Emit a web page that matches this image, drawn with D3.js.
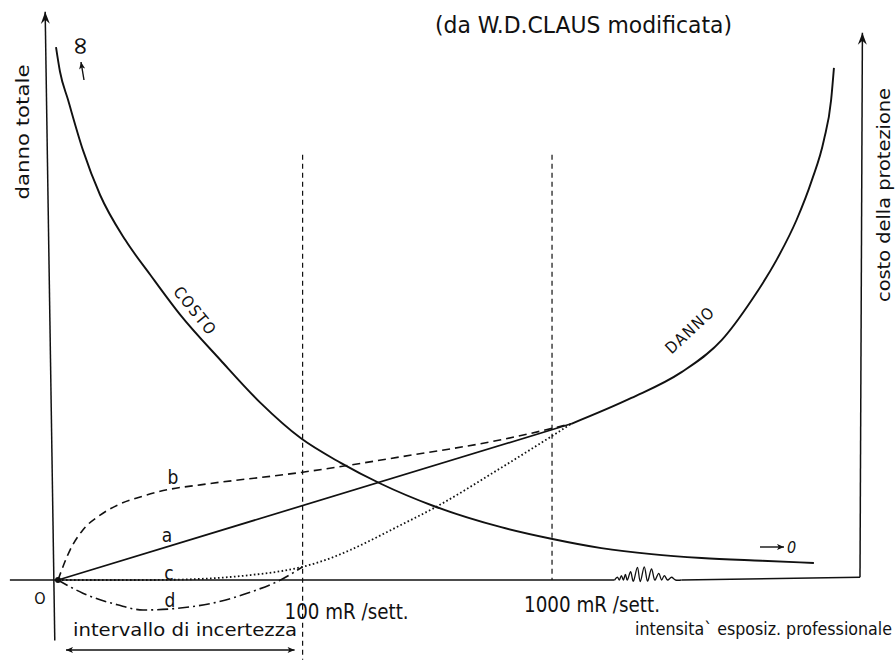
<!DOCTYPE html>
<html>
<head>
<meta charset="utf-8">
<script src="https://d3js.org/d3.v7.min.js"></script>
<style>
  body { margin: 0; background: #fff; }
  text { font-family: "DejaVu Sans Condensed", "DejaVu Sans", sans-serif; fill: #111; }
</style>
</head>
<body>
<div id="chart"></div>
<script>
// values: [intensity, value], both axes in 0-100 chart units
var costo = [[-0.25, 96.9], [0.25, 92.4], [1.25, 87.3], [3.1, 78.2], [5.25, 70], [8.4, 61.8],
             [11.5, 55.5], [15.25, 48.2], [20.25, 40], [25.25, 32.2], [30.25, 25.8], [35.25, 21.3],
             [40.25, 17.5], [46.75, 13.5], [55.25, 9.6], [61.5, 7.5], [67.75, 5.8], [74, 4.7],
             [80.25, 4.0], [87.75, 3.5], [94.25, 3.1]];
var danno = [[64, 28.4], [71.5, 33.1], [77.75, 37.8], [82.75, 43.6], [86.5, 50.9], [89.6, 58.2],
             [92.1, 65.5], [94, 72.7], [95.5, 80], [96.4, 87.3], [96.75, 93.1]];
var curveA = [[0, 0], [64, 28.4]];
var curveB = [[0, 0], [1.5, 5.45], [3.1, 9.1], [5.25, 11.8], [7.4, 13.6], [10.25, 15.1], [13.6, 16.4],
              [17.75, 17.3], [30.5, 19.6], [42.75, 22.4], [55.25, 25.5], [64, 28.4]];
var curveC = [[0, 0], [11.5, 0], [17.75, 0.2], [24, 0.9], [27.75, 1.6], [30.5, 2.4], [34.4, 4.2],
              [36.5, 5.5], [42.75, 10], [46.9, 13.1], [55.25, 20.4], [64, 28.4]];
var curveD = [[0, 0], [3.1, -2.4], [7.4, -4.5], [10.6, -5.45], [15.25, -5.1], [19.9, -4], [24, -2.2],
              [27.75, 0], [30.5, 2.4]];
// the small squiggle that breaks the baseline
var wave = [[69.4, 0], [69.75, 0.5], [70, 0], [70.25, 0.8], [70.5, 0], [70.75, 1.0], [71, 0],
            [71.4, 1.5], [71.75, -0.2], [72.25, 2.3], [72.6, -0.3], [73.1, 2.4], [73.5, -0.2],
            [74, 2.0], [74.4, 0], [74.9, 1.2], [75.25, 0], [75.6, 0.8], [76, 0], [76.5, 0.5],
            [77, 0], [77.75, 0]];
var tickValues = [30.5, 61.6];
var tickLabels = ["100 mR /sett.", "1000 mR /sett."];

var width = 896, height = 668;
var x = d3.scaleLinear().domain([0, 100]).range([58, 860]);
var y = d3.scaleLinear().domain([0, 100]).range([580, 30]);

var svg = d3.select("#chart").append("svg")
    .attr("width", width)
    .attr("height", height);

var defs = svg.append("defs");
defs.append("marker")
    .attr("id", "arr")
    .attr("viewBox", "-12 -5 13 10")
    .attr("refX", 0).attr("refY", 0)
    .attr("markerWidth", 13).attr("markerHeight", 10)
    .attr("markerUnits", "userSpaceOnUse")
    .attr("orient", "auto-start-reverse")
  .append("path")
    .attr("d", "M0,0 L-12,-4.5 L-8,0 L-12,4.5 Z")
    .attr("fill", "#111");
defs.append("marker")
    .attr("id", "arrSmall")
    .attr("viewBox", "-9 -4 10 8")
    .attr("refX", 0).attr("refY", 0)
    .attr("markerWidth", 9).attr("markerHeight", 7)
    .attr("markerUnits", "userSpaceOnUse")
    .attr("orient", "auto-start-reverse")
  .append("path")
    .attr("d", "M0,0 L-8,-3.5 L-6,0 L-8,3.5 Z")
    .attr("fill", "#111");

var line = d3.line().x(function(d) { return x(d[0]); }).y(function(d) { return y(d[1]); });
var smooth = d3.line().x(function(d) { return x(d[0]); }).y(function(d) { return y(d[1]); })
    .curve(d3.curveMonotoneX);

// axes
svg.append("path")
    .attr("d", line([[-0.4, -11], [-1.6, 103.3]]))
    .attr("stroke", "#111").attr("stroke-width", 1.5).attr("fill", "none")
    .attr("marker-end", "url(#arr)");
svg.append("path")
    .attr("d", line([[100, 0.5], [100.3, 99.5]]))
    .attr("stroke", "#111").attr("stroke-width", 1.5).attr("fill", "none")
    .attr("marker-end", "url(#arr)");
svg.append("path")
    .attr("d", line([[-6, 0], [wave[0][0], 0]]))
    .attr("stroke", "#111").attr("stroke-width", 1.4).attr("fill", "none");
svg.append("path")
    .attr("d", line([[wave[wave.length - 1][0], 0], [100, 0.5]]))
    .attr("stroke", "#111").attr("stroke-width", 1.4).attr("fill", "none");
svg.append("path")
    .attr("d", d3.line().x(function(d) { return x(d[0]); }).y(function(d) { return y(d[1]); })
        .curve(d3.curveCardinal)(wave))
    .attr("stroke", "#111").attr("stroke-width", 1.3).attr("fill", "none");

// vertical guide lines
svg.selectAll(".guide")
    .data(tickValues)
    .join("line")
    .attr("class", "guide")
    .attr("x1", function(d) { return x(d); })
    .attr("x2", function(d) { return x(d); })
    .attr("y1", y(77.3))
    .attr("y2", function(d, i) { return i === 0 ? y(-14.5) : y(0); })
    .attr("stroke", "#111").attr("stroke-width", 1.2)
    .attr("stroke-dasharray", "5,4");

// curves
svg.append("path").attr("d", smooth(costo))
    .attr("stroke", "#111").attr("stroke-width", 1.9).attr("fill", "none");
svg.append("path").attr("d", smooth(danno))
    .attr("stroke", "#111").attr("stroke-width", 1.9).attr("fill", "none");
svg.append("path").attr("d", line(curveA))
    .attr("stroke", "#111").attr("stroke-width", 1.7).attr("fill", "none");
svg.append("path").attr("d", smooth(curveB))
    .attr("stroke", "#111").attr("stroke-width", 1.6).attr("fill", "none")
    .attr("stroke-dasharray", "8,5");
svg.append("path").attr("d", smooth(curveC))
    .attr("stroke", "#111").attr("stroke-width", 1.8).attr("fill", "none")
    .attr("stroke-dasharray", "1.6,2.4");
svg.append("path").attr("d", smooth(curveD))
    .attr("stroke", "#111").attr("stroke-width", 1.6).attr("fill", "none")
    .attr("stroke-dasharray", "11,4,2,4");

svg.append("circle")
    .attr("cx", x(0)).attr("cy", y(0)).attr("r", 3)
    .attr("fill", "#111");

// texts
svg.append("text")
    .attr("x", 435).attr("y", 33)
    .attr("font-size", 23)
    .attr("textLength", 297).attr("lengthAdjust", "spacingAndGlyphs")
    .text("(da W.D.CLAUS modificata)");

svg.append("text")
    .attr("transform", "translate(29,132) rotate(-90)")
    .attr("text-anchor", "middle")
    .attr("font-size", 18)
    .attr("textLength", 135).attr("lengthAdjust", "spacingAndGlyphs")
    .text("danno totale");

svg.append("text")
    .attr("transform", "translate(890,195) rotate(-90)")
    .attr("text-anchor", "middle")
    .attr("font-size", 17)
    .attr("textLength", 214).attr("lengthAdjust", "spacingAndGlyphs")
    .text("costo della protezione");

svg.selectAll(".tick-label")
    .data(tickLabels)
    .join("text")
    .attr("class", "tick-label")
    .attr("x", function(d, i) { return x(tickValues[i]) - (i === 0 ? 18 : 28); })
    .attr("y", function(d, i) { return i === 0 ? 619 : 612; })
    .attr("font-size", 21)
    .attr("textLength", function(d, i) { return i === 0 ? 124 : 136; })
    .attr("lengthAdjust", "spacingAndGlyphs")
    .text(function(d) { return d; });

svg.append("text")
    .attr("x", 73).attr("y", 636)
    .attr("font-size", 18)
    .attr("textLength", 224).attr("lengthAdjust", "spacingAndGlyphs")
    .text("intervallo di incertezza");

svg.append("text")
    .attr("x", 635).attr("y", 635)
    .attr("font-size", 17)
    .attr("textLength", 257).attr("lengthAdjust", "spacingAndGlyphs")
    .text("intensita` esposiz. professionale");

svg.append("path")
    .attr("d", "M" + 66 + "," + 650 + "L" + x(29.5) + "," + 650)
    .attr("stroke", "#111").attr("stroke-width", 1.4)
    .attr("marker-start", "url(#arrSmall)")
    .attr("marker-end", "url(#arrSmall)");

svg.append("text").attr("x", 40).attr("y", 604)
    .attr("text-anchor", "middle").attr("font-size", 16).text("O");

var curveLabels = [["a", 167, 542], ["b", 173, 484], ["c", 169, 580], ["d", 170, 607]];
svg.selectAll(".clabel")
    .data(curveLabels)
    .join("text")
    .attr("class", "clabel")
    .attr("x", function(d) { return d[1]; })
    .attr("y", function(d) { return d[2]; })
    .attr("text-anchor", "middle")
    .attr("font-size", 19)
    .text(function(d) { return d[0]; });

svg.append("text")
    .attr("transform", "translate(195,311) rotate(51)")
    .attr("text-anchor", "middle").attr("dominant-baseline", "central")
    .attr("font-size", 16).attr("letter-spacing", 1.5)
    .text("COSTO");

svg.append("text")
    .attr("transform", "translate(690,330) rotate(-43)")
    .attr("text-anchor", "middle").attr("dominant-baseline", "central")
    .attr("font-size", 16).attr("letter-spacing", 1.5)
    .text("DANNO");

// infinity and zero hints for the cost curve
svg.append("text")
    .attr("transform", "translate(81,46) rotate(90)")
    .attr("text-anchor", "middle").attr("dominant-baseline", "central")
    .attr("font-size", 28)
    .text("∞");
svg.append("path")
    .attr("d", "M84,80 L81,62")
    .attr("stroke", "#111").attr("stroke-width", 1.4)
    .attr("marker-end", "url(#arrSmall)");

svg.append("path")
    .attr("d", "M760,547 L784,547")
    .attr("stroke", "#111").attr("stroke-width", 1.4)
    .attr("marker-end", "url(#arrSmall)");
svg.append("text")
    .attr("x", 787).attr("y", 553)
    .attr("font-size", 16).attr("font-style", "italic")
    .text("0");
</script>
</body>
</html>
